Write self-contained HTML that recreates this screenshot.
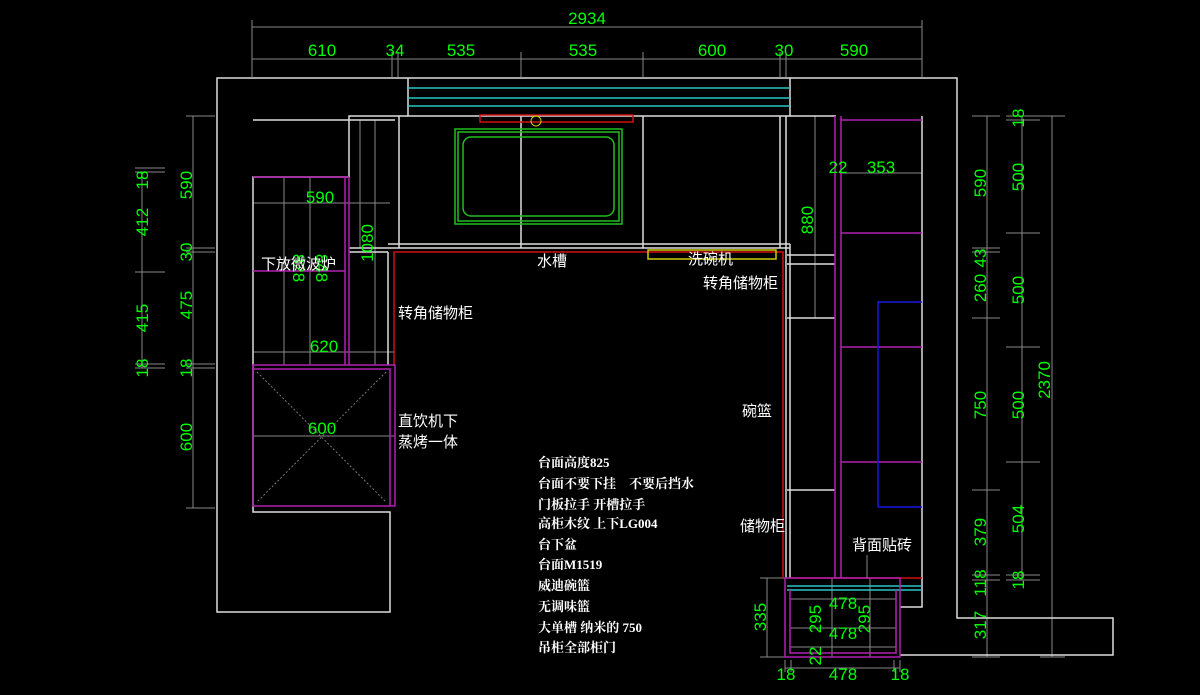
<!DOCTYPE html>
<html><head><meta charset="utf-8"><style>
html,body{margin:0;padding:0;background:#000;}
svg{display:block}
.d{fill:#00ff00;font-family:"Liberation Sans Narrow","Liberation Sans",sans-serif;font-size:17px;}
.t{fill:#fff;font-family:"Liberation Sans","Noto Sans CJK SC",sans-serif;font-size:15px;}
.n{fill:#fff;font-family:"Liberation Serif","Noto Serif CJK SC",serif;font-size:13px;font-weight:bold;}
</style></head><body>
<svg width="1200" height="695" viewBox="0 0 1200 695" xmlns="http://www.w3.org/2000/svg">
<rect width="1200" height="695" fill="#000"/>
<g stroke="#888" stroke-width="1" fill="none">
<line x1="252" y1="27" x2="922" y2="27"/>
<line x1="252" y1="59" x2="922" y2="59"/>
<path d="M252 20V77M922 20V77M392 52V77M398 52V77M521 52V77M643 52V77M780 52V77M786 52V77"/>
<line x1="142" y1="172" x2="142" y2="368"/>
<path d="M135 168H165M135 172H165M135 272H165M135 364H165M135 368H165"/>
<line x1="193" y1="116" x2="193" y2="508"/>
<path d="M186 116H215M186 248H215M186 252H215M186 364H215M186 368H215M186 508H215"/>
<line x1="987" y1="116" x2="987" y2="657"/>
<path d="M972 116H1000M972 248H1000M972 252H1000M972 318H1000M972 490H1000M972 575H1000M972 580H1000M972 657H1000"/>
<line x1="1022" y1="116" x2="1022" y2="580"/>
<path d="M1006 116H1040M1006 120H1040M1006 233H1040M1006 347H1040M1006 462H1040M1006 575H1040M1006 580H1040"/>
<line x1="1052" y1="116" x2="1052" y2="657"/>
<path d="M1040 116H1065M1040 657H1065"/>
<line x1="767" y1="578" x2="767" y2="657"/>
<path d="M760 578H785M760 657H785"/>
<path d="M785 668H900M785 660V672M791 660V672M894 660V672M900 660V672"/>
<path d="M790 599H896M790 628H896M790 647H896M832 578V657M870 578V657"/>
<path d="M253 203H390M253 352H395M253 436H395M360 120V248M375 120V365"/>
<path d="M815 116V318M800 116H836M840 173H922"/>
<path d="M284 177V365M310 177V365"/>
</g>
<g stroke="#ddd" stroke-width="1.5" fill="none">
<path d="M408 78H217V612H390V512H253V177H349V116H408"/>
<path d="M408 78H957V618H1113V655H900"/>
<path d="M408 78V116H790V78"/>
<path d="M790 116H836"/>
<path d="M253 120H395"/>
<path d="M399 116V248M521 116V248M643 116V248M780 116V248M786 116V578"/>
<path d="M388 248H790M388 252V365M388 244H790M790 244V578"/>
<path d="M349 248H388M349 252H388"/>
<path d="M922 116V607H900"/>
<path d="M787 318H835M787 490H835M787 255H835M787 264H835"/>
</g>
<g stroke="#2ec4c4" stroke-width="1.5"><path d="M408 88H790M408 98H790M408 106H790"/></g>
<path d="M787 586H922M787 590H922" stroke="#2ec4c4" stroke-width="1.5"/>
<g stroke="#d01010" stroke-width="1.5" fill="none">
<path d="M394 365V252H783V578"/>
<rect x="480" y="115" width="153" height="7"/>
<path d="M785 578H922"/>
</g>
<circle cx="536" cy="121" r="5" stroke="#cccc00" fill="none"/>
<g stroke="#20c020" stroke-width="1.5" fill="none">
<rect x="455" y="129" width="167" height="95"/>
<rect x="458" y="132" width="161" height="89"/>
<rect x="463" y="137" width="151" height="79" rx="8"/>
</g>
<rect x="648" y="250" width="128" height="9" stroke="#cccc00" fill="none" stroke-width="1.5"/>
<g stroke="#b020b0" stroke-width="1.5" fill="none">
<path d="M253 177H349M345 177V365M349 177V365M253 271H345"/>
<rect x="253" y="365" width="142" height="141"/>
<path d="M253 369H390V506"/>
<path d="M835 116V578M841 116V578M841 120H922M841 233H922M841 347H922M841 462H922"/>
<rect x="785" y="578" width="115" height="79"/>
<path d="M790 590V653H896V590M790 653H896"/>
</g>
<path d="M878 507V302H922M878 507H922" stroke="#1818e0" stroke-width="1.5" fill="none"/>
<g stroke="#777" stroke-dasharray="2 2"><path d="M257 372L386 502M386 372L257 502"/></g>
<g class="d" text-anchor="middle">
<text x="587" y="24">2934</text>
<text x="322" y="56">610</text>
<text x="395" y="56">34</text>
<text x="461" y="56">535</text>
<text x="583" y="56">535</text>
<text x="712" y="56">600</text>
<text x="784" y="56">30</text>
<text x="854" y="56">590</text>
<text x="320" y="203">590</text>
<text x="324" y="352">620</text>
<text x="322" y="434">600</text>
<text x="838" y="173">22</text>
<text x="881" y="173">353</text>
<text x="843" y="609">478</text>
<text x="843" y="639">478</text>
<text x="843" y="680">478</text>
<text x="786" y="680">18</text>
<text x="900" y="680">18</text>
</g>
<g class="d" text-anchor="middle">
<text transform="translate(148,180) rotate(-90)">18</text>
<text transform="translate(148,222) rotate(-90)">412</text>
<text transform="translate(148,318) rotate(-90)">415</text>
<text transform="translate(148,368) rotate(-90)">18</text>
<text transform="translate(192,185) rotate(-90)">590</text>
<text transform="translate(192,252) rotate(-90)">30</text>
<text transform="translate(192,305) rotate(-90)">475</text>
<text transform="translate(192,368) rotate(-90)">18</text>
<text transform="translate(192,437) rotate(-90)">600</text>
<text transform="translate(373,243) rotate(-90)">1080</text>
<text transform="translate(293,268) rotate(90)">828</text>
<text transform="translate(316,268) rotate(90)">848</text>
<text transform="translate(813,220) rotate(-90)">880</text>
<text transform="translate(986,183) rotate(-90)">590</text>
<text transform="translate(986,258) rotate(-90)">43</text>
<text transform="translate(986,288) rotate(-90)">260</text>
<text transform="translate(986,405) rotate(-90)">750</text>
<text transform="translate(986,532) rotate(-90)">379</text>
<text transform="translate(986,583) rotate(-90)">118</text>
<text transform="translate(986,625) rotate(-90)">317</text>
<text transform="translate(1024,118) rotate(-90)">18</text>
<text transform="translate(1024,177) rotate(-90)">500</text>
<text transform="translate(1024,290) rotate(-90)">500</text>
<text transform="translate(1024,405) rotate(-90)">500</text>
<text transform="translate(1024,519) rotate(-90)">504</text>
<text transform="translate(1024,580) rotate(-90)">18</text>
<text transform="translate(1050,380) rotate(-90)">2370</text>
<text transform="translate(766,617) rotate(-90)">335</text>
<text transform="translate(821,619) rotate(-90)">295</text>
<text transform="translate(870,619) rotate(-90)">295</text>
<text transform="translate(821,656) rotate(-90)">22</text>
</g>
<g class="t">
<text x="261" y="269">下放微波炉</text>
<text x="537" y="266">水槽</text>
<text x="688" y="264">洗碗机</text>
<text x="703" y="288">转角储物柜</text>
<text x="398" y="318">转角储物柜</text>
<text x="398" y="426">直饮机下</text>
<text x="398" y="447">蒸烤一体</text>
<text x="742" y="416">碗篮</text>
<text x="740" y="531">储物柜</text>
<text x="852" y="550">背面贴砖</text>
</g>
<path d="M867 555V578" stroke="#888"/>
<g class="n">
<text x="538" y="467">台面高度825</text>
<text x="538" y="488">台面不要下挂　不要后挡水</text>
<text x="538" y="509">门板拉手 开槽拉手</text>
<text x="538" y="528">高柜木纹 上下LG004</text>
<text x="538" y="549">台下盆</text>
<text x="538" y="569">台面M1519</text>
<text x="538" y="590">威迪碗篮</text>
<text x="538" y="611">无调味篮</text>
<text x="538" y="632">大单槽 纳米的 750</text>
<text x="538" y="652">吊柜全部柜门</text>
</g>
</svg>
</body></html>
